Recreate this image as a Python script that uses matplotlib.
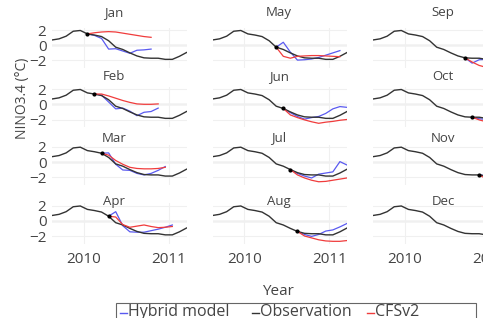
import numpy as np
import matplotlib.pyplot as plt
from matplotlib.lines import Line2D
from matplotlib.patches import Rectangle

plt.rcParams['font.family'] = ['Open Sans', 'DejaVu Sans']

# ---- data (monthly, plotted at mid-month) ----
months = ['Jan', 'Feb', 'Mar', 'Apr', 'May', 'Jun',
          'Jul', 'Aug', 'Sep', 'Oct', 'Nov', 'Dec']
obs_first = 2009 + 7.5 / 12          # Aug 2009
observation = [0.7, 0.85, 1.2, 1.85, 1.95, 1.5, 1.35, 1.15, 0.6, -0.25,
               -0.55, -1.0, -1.4, -1.65, -1.7, -1.7, -1.85, -1.85, -1.45, -0.95]

# forecasts start at the observation of the initial month (Jan 2010 ... Dec 2010)
hybrid_model = [
    [1.5, 1.3, 0.9, -0.5, -0.45, -0.75, -1.05, -0.65, -0.6, -0.5],
    [1.35, 1.2, 0.3, -0.6, -0.5, -0.9, -1.5, -1.05, -0.95, -0.5],
    [1.15, 1.2, -0.3, -1.05, -1.1, -1.5, -1.7, -1.5, -1.1, -0.6],
    [0.6, 1.2, -0.65, -1.45, -1.5, -1.5, -1.3, -1.1, -0.85, -0.55],
    [-0.25, 0.4, -0.9, -1.95, -1.9, -1.8, -1.6, -1.3, -1.0, -0.7],
    [-0.55, -1.1, -1.6, -1.95, -1.75, -1.6, -1.2, -0.6, -0.3, -0.4],
    [-1.0, -1.5, -1.85, -2.1, -1.6, -1.45, -1.3, 0.05, -0.4, -0.6],
    [-1.4, -1.8, -2.05, -1.8, -1.35, -1.2, -0.8, -0.35, -0.2, -0.1],
    [-1.65, -2.35, -1.9, -1.85, -1.8],
    [-1.7, -1.9, -2.0, -1.9],
    [-1.7, -1.8, -1.7],
    [-1.85, -1.7],
]
cfsv2 = [
    [1.5, 1.65, 1.75, 1.8, 1.75, 1.6, 1.45, 1.3, 1.15, 1.05],
    [1.35, 1.35, 1.1, 0.8, 0.5, 0.25, 0.05, 0.0, 0.0, 0.05],
    [1.15, 0.9, 0.2, -0.3, -0.7, -0.85, -0.9, -0.9, -0.85, -0.7],
    [0.6, 0.5, -0.5, -0.85, -0.7, -0.55, -0.75, -0.9, -0.85, -0.75],
    [-0.25, -1.45, -1.7, -1.45, -1.4, -1.35, -1.35, -1.4, -1.45, -1.5],
    [-0.55, -1.4, -1.75, -2.05, -2.3, -2.5, -2.35, -2.25, -2.1, -2.0],
    [-1.0, -1.7, -2.1, -2.4, -2.6, -2.55, -2.4, -2.25, -2.1, -2.0],
    [-1.4, -2.0, -2.25, -2.5, -2.65, -2.7, -2.7, -2.6, -2.55, -2.5],
    [-1.65, -2.2, -2.65, -2.9, -2.9],
    [-1.7, -2.05, -2.3, -2.4],
    [-1.7, -2.2, -2.4],
    [-1.85, -2.2],
]

# ---- style ----
W, H = 483, 318
TXT = '#444444'
C_HYB, C_OBS, C_CFS = '#5a5af0', '#333333', '#f03c3c'

col_left = [52, 212.5, 373]
panel_w = 134.5
zero_y = [45.3, 104.3, 162.0, 220.8]
ppu = 7.6
ymin, ymax = -3.0, 2.3
xmin, xmax = 2009 + 7.5 / 12, 2011 + 2.5 / 12
title_x = [114, 279, 443]
title_y = [12.5, 76.5, 138, 201.7]

fig = plt.figure(figsize=(W / 100, H / 100), dpi=100)

t_obs = obs_first + np.arange(len(observation)) / 12

for i, m in enumerate(months):
    col, row = i // 4, i % 4
    top = zero_y[row] - ymax * ppu
    hgt = (ymax - ymin) * ppu
    ax = fig.add_axes([col_left[col] / W, 1 - (top + hgt) / H, panel_w / W, hgt / H])
    ax.set_xlim(xmin, xmax)
    ax.set_ylim(ymin, ymax)
    for s in ax.spines.values():
        s.set_visible(False)
    ax.set_xticks([2010, 2011])
    ax.set_yticks([-2, 0, 2])
    ax.grid(color='#f0f0f0', lw=0.8)
    ax.axhline(0, color='#b0b0b0', lw=0.9, zorder=1)
    ax.tick_params(length=0, labelsize=11, labelcolor=TXT, pad=4)
    ax.tick_params(axis='x', pad=6)
    if col != 0:
        ax.set_yticklabels([])
    if row != 3:
        ax.set_xticklabels([])
    else:
        ax.set_xticklabels(['2010', '2011'])

    k0 = 5 + i
    t0 = t_obs[k0]
    th = t0 + np.arange(len(hybrid_model[i])) / 12
    tc = t0 + np.arange(len(cfsv2[i])) / 12
    ax.plot(th, hybrid_model[i], color=C_HYB, lw=0.9, zorder=3)
    ax.plot(t_obs, observation, color=C_OBS, lw=1.0, zorder=4)
    ax.plot(tc, cfsv2[i], color=C_CFS, lw=0.9, zorder=5)
    ax.plot([t0], [observation[k0]], 'o', color='black', ms=2, zorder=6)

    fig.text(title_x[col] / W, 1 - title_y[row] / H, m, ha='center', va='center',
             fontsize=9.5, color=TXT)

fig.text(23 / W, 1 - 98 / H, 'NINO3.4 (°C)', rotation=90, ha='center', va='center',
         fontsize=10, color=TXT)
fig.text(278 / W, 1 - 291.7 / H, 'Year', ha='center', va='center', fontsize=11, color=TXT)

# legend (box runs past the bottom edge, as in the cropped original)
fig.patches.append(Rectangle((116 / W, 1 - 340 / H), 360 / W, 37 / H, transform=fig.transFigure,
                             fill=False, edgecolor='#666666', lw=0.8))
legend_items = [('Hybrid model', C_HYB, 120), ('Observation', C_OBS, 252), ('CFSv2', C_CFS, 367)]
for label, color, x in legend_items:
    fig.lines.append(Line2D([x / W, (x + 7) / W], [1 - 313 / H] * 2, transform=fig.transFigure,
                            color=color, lw=1.0))
    fig.text((x + 8) / W, 1 - 316.5 / H, label, ha='left', va='baseline', fontsize=11.5, color=TXT)

fig.savefig('out.png', dpi=100)
